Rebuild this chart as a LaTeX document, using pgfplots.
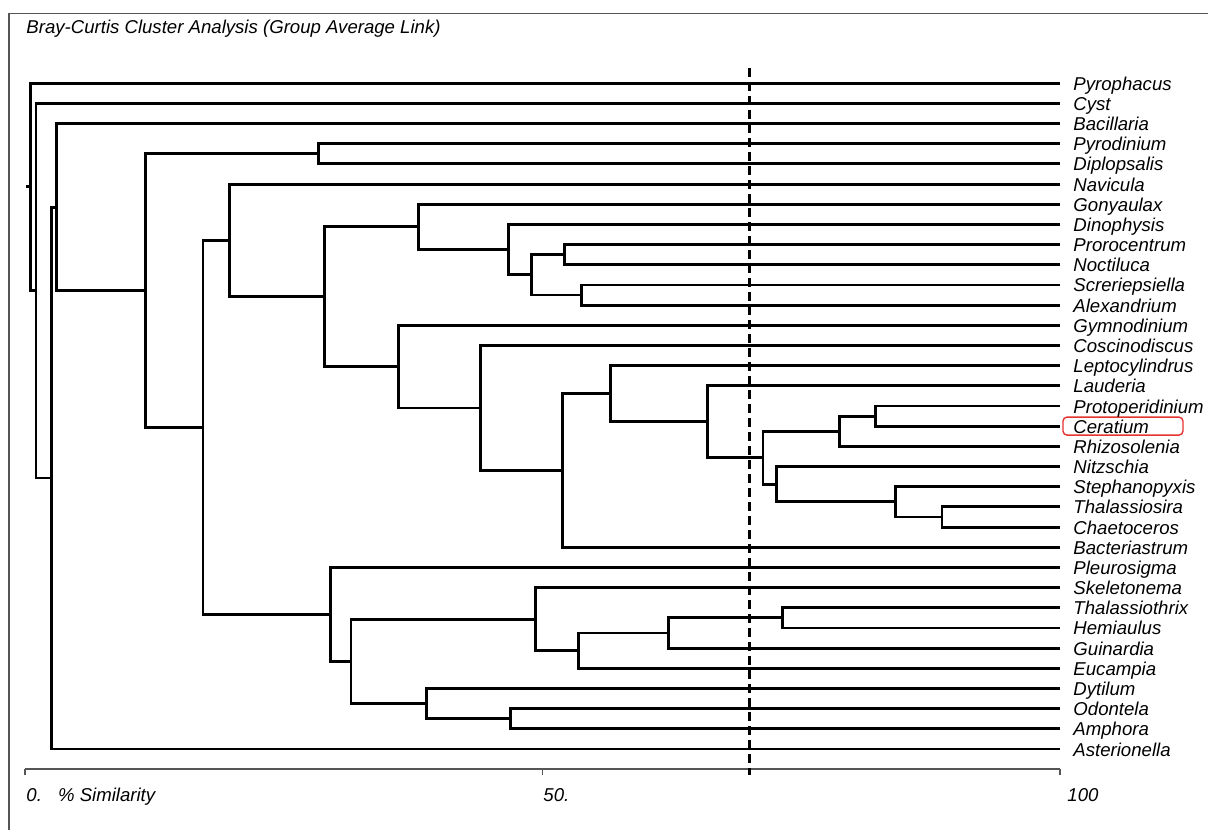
\documentclass[border=0pt]{standalone}
\usepackage{fontspec}
\setmainfont{Liberation Sans}
\usepackage{pgfplots}
\pgfplotsset{compat=1.18}
\newcommand{\lf}{\fontsize{9.3pt}{11pt}\selectfont\itshape}
\definecolor{framegray}{HTML}{555555}
\definecolor{boxred}{HTML}{E5332F}
\tikzset{
  dend/.style={black, line width=1.45pt, line join=miter},
  leaf/.style={anchor=base west, inner sep=0pt, yshift=-3.5pt, font=\lf},
  txt/.style={anchor=base west, inner sep=0pt, font=\lf},
}
\begin{document}
\begin{tikzpicture}
\path[use as bounding box] (-12.5pt,-29.9pt) rectangle (591.5pt,384.6pt);
\begin{axis}[
  at={(0pt,0pt)}, anchor=south west,
  scale only axis, width=517.5pt, height=378pt,
  xmin=0, xmax=100, ymin=-1, ymax=36.469,
  axis x line*=bottom, axis y line=none,
  x axis line style={framegray, line width=0.8pt},
  xtick={0,50,100}, xticklabels={,,},
  tick align=outside, major tick length=3pt,
  every tick/.style={framegray, line width=0.8pt},
  clip=false,
]
% frame
\draw[framegray, line width=0.6pt] (axis cs:-1.546,-4.2) -- (axis cs:-1.546,36.469) -- (axis cs:115,36.469);
% title
\node[txt] at (axis cs:0.1,35.48) {Bray-Curtis Cluster Analysis (Group Average Link)};
% tick labels
\node[txt] at (axis cs:0.1,-2.61) {0.};
\node[txt] at (axis cs:3.16,-2.61) {\% Similarity};
\node[txt] at (axis cs:50.05,-2.61) {50.};
\node[txt] at (axis cs:100.68,-2.61) {100};
% cut-off line
\addplot[black, line width=1.4pt, dash pattern=on 4.5pt off 2.5pt] coordinates {(70,33.75) (70,-1.29)};
% dendrogram links
\addplot[dend] coordinates {(100,30) (28.4,30) (28.4,29) (100,29)};
\addplot[dend] coordinates {(100,25) (52.1,25) (52.1,24) (100,24)};
\addplot[dend] coordinates {(100,23) (53.8,23) (53.8,22) (100,22)};
\addplot[dend] coordinates {(52.1,24.5) (48.9,24.5) (48.9,22.5) (53.8,22.5)};
\addplot[dend] coordinates {(100,26) (46.7,26) (46.7,23.5) (48.9,23.5)};
\addplot[dend] coordinates {(100,27) (38.0,27) (38.0,24.75) (46.7,24.75)};
\addplot[dend] coordinates {(100,17) (82.2,17) (82.2,16) (100,16)};
\addplot[dend] coordinates {(82.2,16.5) (78.7,16.5) (78.7,15) (100,15)};
\addplot[dend] coordinates {(100,12) (88.6,12) (88.6,11) (100,11)};
\addplot[dend] coordinates {(100,13) (84.1,13) (84.1,11.5) (88.6,11.5)};
\addplot[dend] coordinates {(100,14) (72.6,14) (72.6,12.25) (84.1,12.25)};
\addplot[dend] coordinates {(78.7,15.75) (71.3,15.75) (71.3,13.125) (72.6,13.125)};
\addplot[dend] coordinates {(100,18) (65.9,18) (65.9,14.4375) (71.3,14.4375)};
\addplot[dend] coordinates {(100,19) (56.6,19) (56.6,16.219) (65.9,16.219)};
\addplot[dend] coordinates {(56.6,17.609) (51.9,17.609) (51.9,10) (100,10)};
\addplot[dend] coordinates {(100,20) (44.0,20) (44.0,13.805) (51.9,13.805)};
\addplot[dend] coordinates {(100,21) (36.1,21) (36.1,16.902) (44.0,16.902)};
\addplot[dend] coordinates {(38.0,25.875) (28.9,25.875) (28.9,18.951) (36.1,18.951)};
\addplot[dend] coordinates {(100,28) (19.8,28) (19.8,22.413) (28.9,22.413)};
\addplot[dend] coordinates {(100,7) (73.2,7) (73.2,6) (100,6)};
\addplot[dend] coordinates {(73.2,6.5) (62.2,6.5) (62.2,5) (100,5)};
\addplot[dend] coordinates {(62.2,5.75) (53.5,5.75) (53.5,4) (100,4)};
\addplot[dend] coordinates {(100,8) (49.3,8) (49.3,4.875) (53.5,4.875)};
\addplot[dend] coordinates {(100,2) (46.9,2) (46.9,1) (100,1)};
\addplot[dend] coordinates {(100,3) (38.8,3) (38.8,1.5) (46.9,1.5)};
\addplot[dend] coordinates {(49.3,6.4375) (31.5,6.4375) (31.5,2.25) (38.8,2.25)};
\addplot[dend] coordinates {(100,9) (29.5,9) (29.5,4.344) (31.5,4.344)};
\addplot[dend] coordinates {(19.8,25.207) (17.2,25.207) (17.2,6.672) (29.5,6.672)};
\addplot[dend] coordinates {(28.4,29.5) (11.6,29.5) (11.6,15.939) (17.2,15.939)};
\addplot[dend] coordinates {(100,31) (3.0,31) (3.0,22.72) (11.6,22.72)};
\addplot[dend] coordinates {(3.0,26.86) (2.6,26.86) (2.6,0) (100,0)};
\addplot[dend] coordinates {(100,32) (1.06,32) (1.06,13.43) (2.6,13.43)};
\addplot[dend] coordinates {(100,33) (0.5,33) (0.5,22.715) (1.06,22.715)};
\addplot[dend] coordinates {(0.5,27.86) (0.1,27.86)};
% highlight box
\draw[boxred, line width=0.7pt, rounded corners=2pt] (axis cs:100.29,15.56) rectangle (axis cs:111.88,16.45);
% leaf labels
\node[leaf] at (axis cs:101.26,33) {Pyrophacus};
\node[leaf] at (axis cs:101.26,32) {Cyst};
\node[leaf] at (axis cs:101.26,31) {Bacillaria};
\node[leaf] at (axis cs:101.26,30) {Pyrodinium};
\node[leaf] at (axis cs:101.26,29) {Diplopsalis};
\node[leaf] at (axis cs:101.26,28) {Navicula};
\node[leaf] at (axis cs:101.26,27) {Gonyaulax};
\node[leaf] at (axis cs:101.26,26) {Dinophysis};
\node[leaf] at (axis cs:101.26,25) {Prorocentrum};
\node[leaf] at (axis cs:101.26,24) {Noctiluca};
\node[leaf] at (axis cs:101.26,23) {Screriepsiella};
\node[leaf] at (axis cs:101.26,22) {Alexandrium};
\node[leaf] at (axis cs:101.26,21) {Gymnodinium};
\node[leaf] at (axis cs:101.26,20) {Coscinodiscus};
\node[leaf] at (axis cs:101.26,19) {Leptocylindrus};
\node[leaf] at (axis cs:101.26,18) {Lauderia};
\node[leaf] at (axis cs:101.26,17) {Protoperidinium};
\node[leaf] at (axis cs:101.26,16) {Ceratium};
\node[leaf] at (axis cs:101.26,15) {Rhizosolenia};
\node[leaf] at (axis cs:101.26,14) {Nitzschia};
\node[leaf] at (axis cs:101.26,13) {Stephanopyxis};
\node[leaf] at (axis cs:101.26,12) {Thalassiosira};
\node[leaf] at (axis cs:101.26,11) {Chaetoceros};
\node[leaf] at (axis cs:101.26,10) {Bacteriastrum};
\node[leaf] at (axis cs:101.26,9) {Pleurosigma};
\node[leaf] at (axis cs:101.26,8) {Skeletonema};
\node[leaf] at (axis cs:101.26,7) {Thalassiothrix};
\node[leaf] at (axis cs:101.26,6) {Hemiaulus};
\node[leaf] at (axis cs:101.26,5) {Guinardia};
\node[leaf] at (axis cs:101.26,4) {Eucampia};
\node[leaf] at (axis cs:101.26,3) {Dytilum};
\node[leaf] at (axis cs:101.26,2) {Odontela};
\node[leaf] at (axis cs:101.26,1) {Amphora};
\node[leaf] at (axis cs:101.26,0) {Asterionella};
\end{axis}
\end{tikzpicture}
\end{document}
